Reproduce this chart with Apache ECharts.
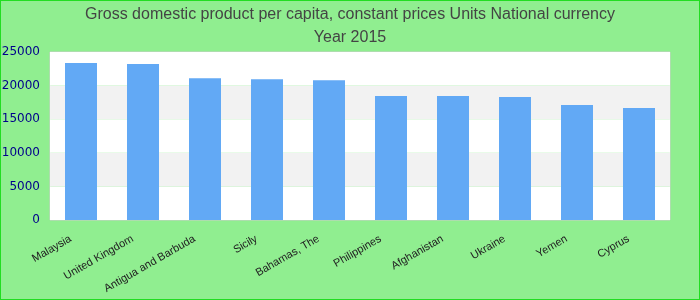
<!DOCTYPE html>
<html><head><meta charset="utf-8">
<script src="https://cdn.jsdelivr.net/npm/echarts@6/dist/echarts.min.js"></script>
<style>
html,body{margin:0;padding:0;background:#90EE90;}
#c{width:700px;height:300px;box-sizing:border-box;border:1px solid #22dd22;}
</style></head>
<body><div id="c"></div>
<script>
const titleLines = ["Gross domestic product per capita, constant prices Units National currency", "Year 2015"];
const categories = ["Malaysia","United Kingdom","Antigua and Barbuda","Sicily","Bahamas, The","Philippines","Afghanistan","Ukraine","Yemen","Cyprus"];
const values = [23350, 23200, 21100, 20950, 20800, 18450, 18450, 18300, 17100, 16650];
const yTicks = [0, 5000, 10000, 15000, 20000, 25000];

const chart = echarts.init(document.getElementById('c'), null, {renderer:'canvas'});
chart.setOption({
  backgroundColor: '#90EE90',
  animation: false,
  title: {
    text: titleLines.join('\n'),
    left: 'center', top: -3,
    textStyle: {fontFamily: 'Liberation Sans, Arial, sans-serif', fontSize: 16, fontWeight: 'normal', color: '#444', lineHeight: 23}
  },
  grid: {left: 49, right: 29, top: 51, bottom: 79, show: true, borderColor: '#cccccc', borderWidth: 1, backgroundColor: 'transparent', containLabel: false, outerBoundsMode: 'none'},
  xAxis: {
    type: 'category', data: categories,
    axisLine: {show: false}, axisTick: {show: false},
    axisLabel: {rotate: 30, margin: 12, padding: [0, 12, 0, 0], fontSize: 11, color: '#222', fontFamily: 'Liberation Sans, Arial, sans-serif', interval: 0}
  },
  yAxis: {
    type: 'value', min: yTicks[0], max: yTicks[yTicks.length-1], interval: 5000,
    axisLine: {show: false}, axisTick: {show: false},
    splitLine: {show: false},
    splitArea: {show: true, areaStyle: {color: ['#ffffff', '#f2f2f2']}},
    axisLabel: {fontSize: 12, color: '#00008b', margin: 10, fontFamily: 'DejaVu Sans, sans-serif', formatter: function(v){ return String(v); }}
  },
  series: [{
    type: 'bar', data: values, barWidth: 32,
    itemStyle: {color: '#62a9f5'}
  }]
});
</script></body></html>
